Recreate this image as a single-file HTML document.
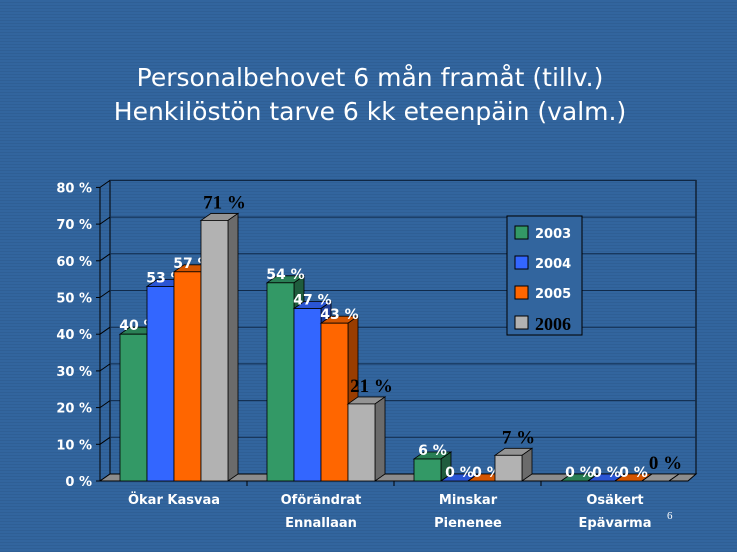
<!DOCTYPE html>
<html><head><meta charset="utf-8"><style>
html,body{margin:0;padding:0}
body{width:737px;height:552px;overflow:hidden;background:#32659e;background-image:repeating-linear-gradient(0deg,rgba(0,0,0,0.06) 0 1px,transparent 1px 3px)}
svg{position:absolute;left:0;top:0}
</style></head><body>
<svg id="c" width="737" height="552">
<text x="370" y="86" text-anchor="middle" fill="#fff" font-family="'DejaVu Sans','Liberation Sans',sans-serif" font-size="25">Personalbehovet 6 mån framåt (tillv.)</text>
<text x="370" y="120" text-anchor="middle" fill="#fff" font-family="'DejaVu Sans','Liberation Sans',sans-serif" font-size="25">Henkilöstön tarve 6 kk eteenpäin (valm.)</text>
<text x="667" y="519" fill="#fff" font-family="'Liberation Serif',serif" font-size="11">6</text>
</svg>
<script>
const categories=[["Ökar Kasvaa",""],["Oförändrat","Ennallaan"],["Minskar","Pienenee"],["Osäkert","Epävarma"]];
const series=["2003","2004","2005","2006"];
const v2003=[40,54,6,0];
const v2004=[53,47,0,0];
const v2005=[57,43,0,0];
const v2006=[71,21,7,0];
const yTicks=[0,10,20,30,40,50,60,70,80];
const values=[v2003,v2004,v2005,v2006];
const colors=["#339966","#3366ff","#ff6600","#b2b2b2"];
const sides=["#1f5c3d","#1f3d99","#993d00","#6b6b6b"];
const tops=["#2a7f55","#2a55d4","#d45500","#949494"];
const NS="http://www.w3.org/2000/svg";
const svg=document.getElementById('c');
const X0=100,Y0=481,PX=36.7,DX=10,DY=-7,GW=147,BW=27,GX0=120;
function y(v){return Y0-v*PX/10;}
function mk(t,a){const e=document.createElementNS(NS,t);for(const k in a)e.setAttribute(k,a[k]);svg.appendChild(e);return e;}
let w=mk('rect',{x:X0+DX,y:y(80)+DY,width:696-X0-DX,height:y(0)-y(80),fill:'none',stroke:'#000','stroke-width':1});


yTicks.forEach(t=>{
 const g=mk('line',{x1:X0+DX,x2:696,y1:y(t)+DY,y2:y(t)+DY,stroke:'#102a4a','stroke-width':1});
 
 
 const d=mk('line',{x1:X0,y1:y(t),x2:X0+DX,y2:y(t)+DY,stroke:'#000'});
 
 
 const tk=mk('line',{x1:X0-4,x2:X0,y1:y(t),y2:y(t),stroke:'#000'});
 
 
 const l=mk('text',{x:X0-8,y:y(t)+5,'text-anchor':'end',fill:'#fff','font-family':"'DejaVu Sans',sans-serif",'font-weight':'bold','font-size':13});
 l.textContent=t+' %';
 
 
});
const fl=mk('polygon',{points:`${X0},${Y0} ${X0+DX},${Y0+DY} 696,${Y0+DY} ${696-DX+2},${Y0} `,fill:'#8c8c8c',stroke:'#000'});


const ax=mk('line',{x1:X0,y1:y(80),x2:X0,y2:Y0,stroke:'#000'});


const xa=mk('line',{x1:X0,y1:Y0,x2:688,y2:Y0,stroke:'#000'});


categories.forEach((c,i)=>{
 if(i>0){const tk=mk('line',{x1:X0+i*GW,x2:X0+i*GW,y1:Y0,y2:Y0+5,stroke:'#000'});
 
 }
 const cx=GX0+i*GW+2*BW;
 c.forEach((s,j)=>{if(!s)return;
  const t=mk('text',{x:cx,y:504+j*23,'text-anchor':'middle',fill:'#fff','font-family':"'DejaVu Sans',sans-serif",'font-weight':'bold','font-size':13});
  t.textContent=s;
  
  });
 values.forEach((arr,s)=>{
  const v=arr[i];const x=GX0+i*GW+s*BW;const yt=y(v);
  const top=mk('polygon',{points:`${x},${yt} ${x+DX},${yt+DY} ${x+BW+DX},${yt+DY} ${x+BW},${yt}`,fill:tops[s],stroke:'#000','stroke-width':0.8});
  
  
  const sd=mk('polygon',{points:`${x+BW},${yt} ${x+BW+DX},${yt+DY} ${x+BW+DX},${Y0+DY} ${x+BW},${Y0}`,fill:sides[s],stroke:'#000','stroke-width':0.8});
  
  
  const r=mk('rect',{x:x,y:yt,width:BW,height:Y0-yt,fill:colors[s],stroke:'#000','stroke-width':0.8});
  
  
  const serif=s===3;
  const lb=mk('text',{x:x+BW/2+(serif?10:5),y:yt-(serif?12:4),'text-anchor':'middle',fill:serif?'#000':'#fff','font-family':serif?"'Liberation Serif',serif":"'DejaVu Sans',sans-serif",'font-weight':'bold','font-size':serif?19:14});
  lb.textContent=v+' %';
  
  
 });
});
const lg=mk('rect',{x:507,y:216,width:75,height:119,fill:'#32659e',stroke:'#000'});


series.forEach((s,k)=>{
 const yy=226+k*30;
 const sw=mk('rect',{x:515,y:yy,width:13,height:13,fill:colors[k],stroke:'#000'});
 
 
 const serif=k===3;
 const t=mk('text',{x:535,y:yy+12+(serif?2:0),fill:serif?'#000':'#fff','font-family':serif?"'Liberation Serif',serif":"'DejaVu Sans',sans-serif",'font-weight':'bold','font-size':serif?18:13});
 t.textContent=s;
 
 
});
</script>
</body></html>
